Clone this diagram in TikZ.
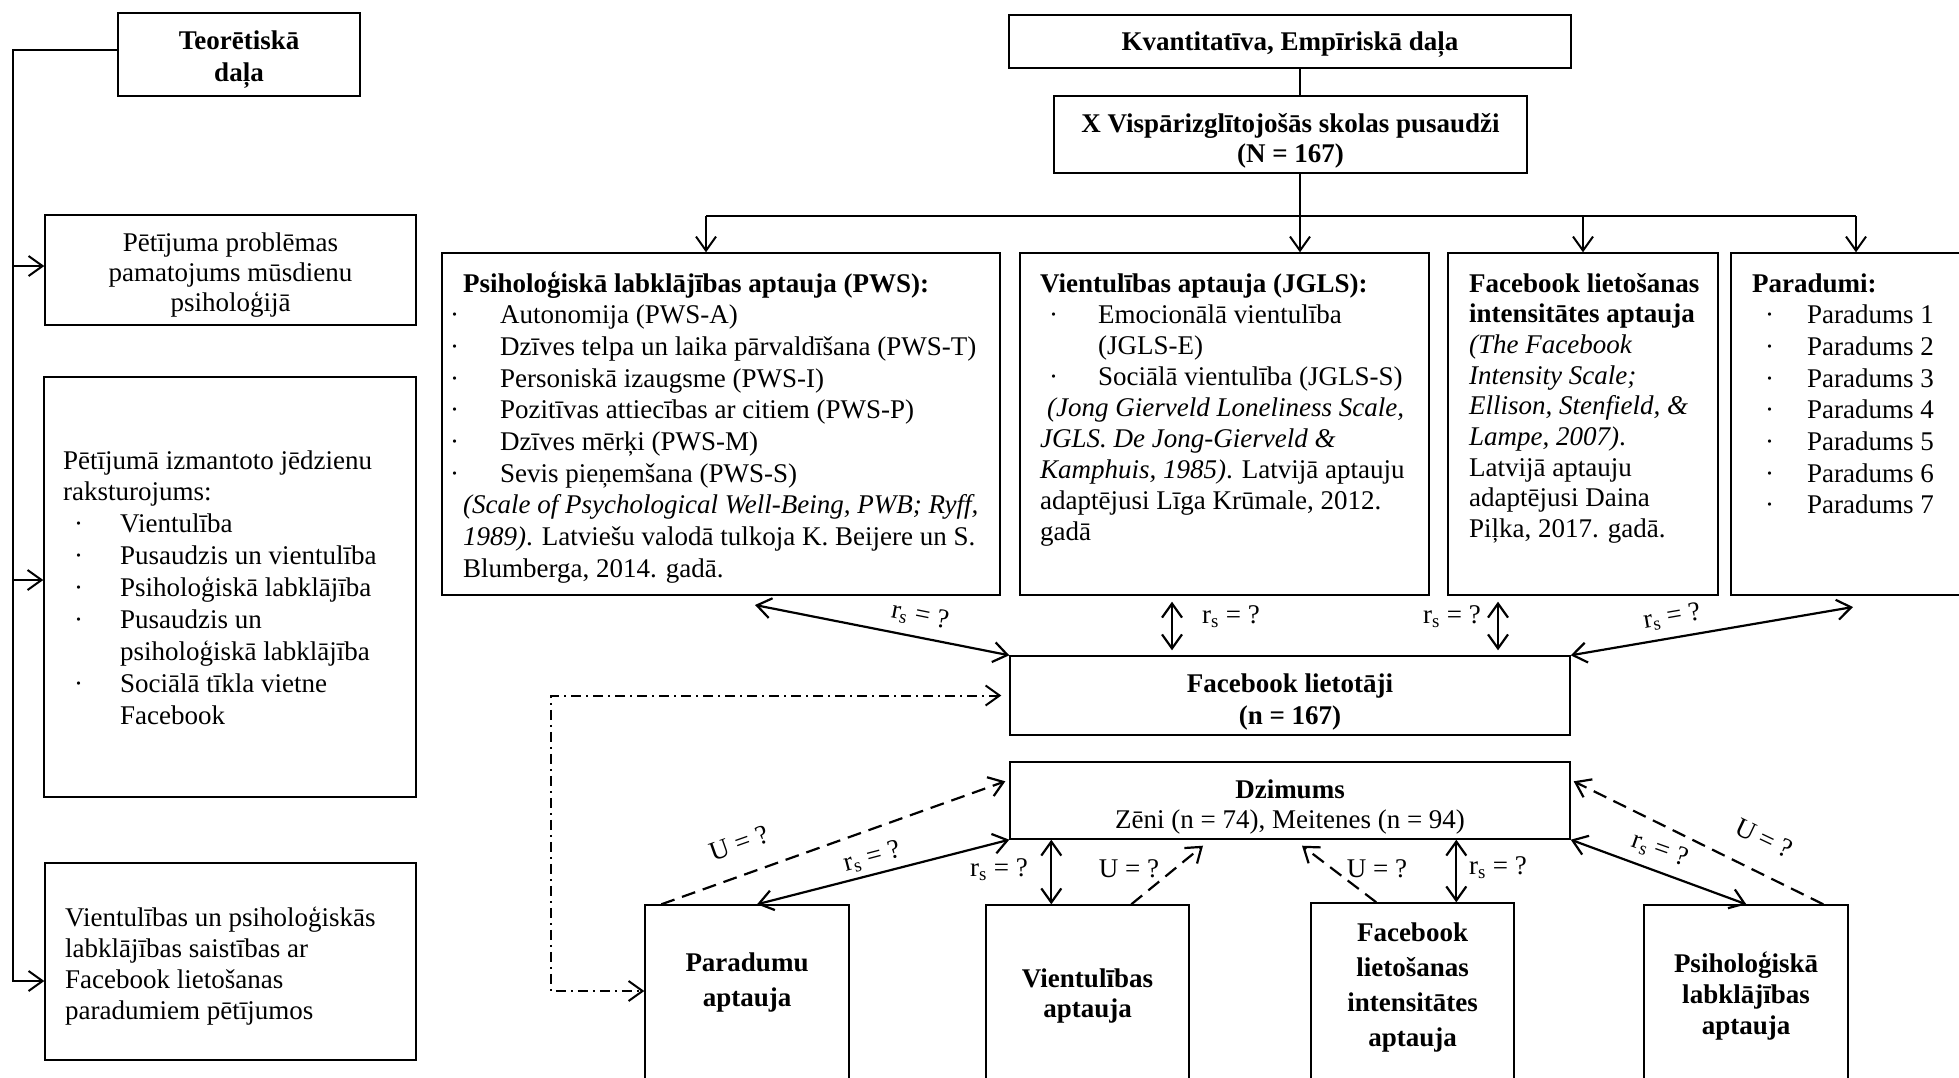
\documentclass[tikz,border=0pt]{standalone}
\usepackage{fontspec}
\setmainfont{Liberation Serif}
\usetikzlibrary{arrows.meta}
\newcommand\bulx[1]{\makebox[#1][l]{·}}
\newcommand\txtlines[3]{{\fontsize{27}{#1}\selectfont\begin{tabular}[t]{@{}#2@{}}#3\end{tabular}}}
\begin{document}
\begin{tikzpicture}[x=1pt,y=-1pt,
  font=\fontsize{27}{31.7}\selectfont,
  >={Straight Barb[length=14pt,width=20pt]},
  box/.style={draw, line width=1.4pt, inner sep=0pt, rectangle},
  txt/.style={inner sep=0pt, anchor=base west},
  ctxt/.style={inner sep=0pt, anchor=base},
  conn/.style={line width=2.2pt},
  thinconn/.style={line width=2pt},
  dashedconn/.style={line width=2.2pt, dash pattern=on 14pt off 8pt},
  ddot/.style={line width=2pt, dash pattern=on 10pt off 5pt on 2pt off 5pt},
  lab/.style={inner sep=1pt}]
\useasboundingbox (0,0) rectangle (1959,1077);
\fill[white] (0,0) rectangle (1959,1077);
\clip (0,0) rectangle (1959,1077);

% ---------- boxes ----------
\node[box, minimum width=242pt, minimum height=83pt] (teo) at (239,54.5) {};
\node[box, minimum width=371pt, minimum height=110pt] (lb1) at (230.5,270) {};
\node[box, minimum width=372pt, minimum height=420pt] (lb2) at (230,587) {};
\node[box, minimum width=371pt, minimum height=197pt] (lb3) at (230.5,961.5) {};

\node[box, minimum width=562pt, minimum height=53pt] (kv) at (1290,41.5) {};
\node[box, minimum width=473pt, minimum height=77pt] (xv) at (1290.5,134.5) {};

\node[box, minimum width=558pt, minimum height=342pt] (pws) at (721,424) {};
\node[box, minimum width=409pt, minimum height=342pt] (jg) at (1224.5,424) {};
\node[box, minimum width=270pt, minimum height=342pt] (fb) at (1583,424) {};
\node[box, minimum width=269pt, minimum height=342pt] (pad) at (1865.5,424) {};

\node[box, minimum width=560pt, minimum height=79pt] (fbl) at (1290,695.5) {};
\node[box, minimum width=560pt, minimum height=77pt] (dz) at (1290,800.5) {};

\node[box, minimum width=204pt, minimum height=295pt] (bpa) at (747,1052.5) {};
\node[box, minimum width=203pt, minimum height=295pt] (bva) at (1087.5,1052.5) {};
\node[box, minimum width=203pt, minimum height=297pt] (bfa) at (1412.5,1051.5) {};
\node[box, minimum width=204pt, minimum height=295pt] (bps) at (1746,1052.5) {};

% ---------- texts ----------
\node[ctxt] (teo-t) at (239,49) {\txtlines{32}{c}{\textbf{Teorētiskā}\\\textbf{daļa}}};
\node[ctxt] (lb1-t) at (230.5,251) {\txtlines{30}{c}{Pētījuma problēmas\\pamatojums mūsdienu\\psiholoģijā}};
\node[txt] (lb2-t) at (63,469) {\txtlines{31.9}{l}{%
Pētījumā izmantoto jēdzienu\\
raksturojums:\\
\hspace*{11pt}\bulx{46pt}Vientulība\\
\hspace*{11pt}\bulx{46pt}Pusaudzis un vientulība\\
\hspace*{11pt}\bulx{46pt}Psiholoģiskā labklājība\\
\hspace*{11pt}\bulx{46pt}Pusaudzis un\\
\hspace*{57pt}psiholoģiskā labklājība\\
\hspace*{11pt}\bulx{46pt}Sociālā tīkla vietne\\
\hspace*{57pt}Facebook}};
\node[txt] (lb3-t) at (65,926) {\txtlines{31}{l}{%
Vientulības un psiholoģiskās\\
labklājības saistības ar\\
Facebook lietošanas\\
paradumiem pētījumos}};

\node[ctxt] (kv-t) at (1290,50) {\textbf{Kvantitatīva, Empīriskā daļa}};
\node[ctxt] (xv-t) at (1290.5,132) {\txtlines{30}{c}{\textbf{X Vispārizglītojošās skolas pusaudži}\\\textbf{(N = 167)}}};

\node[txt] (pws-t) at (450,292) {\txtlines{31.7}{l}{%
\hspace*{13pt}\textbf{Psiholoģiskā labklājības aptauja (PWS):}\\
\bulx{50pt}Autonomija (PWS-A)\\
\bulx{50pt}Dzīves telpa un laika pārvaldīšana (PWS-T)\\
\bulx{50pt}Personiskā izaugsme (PWS-I)\\
\bulx{50pt}Pozitīvas attiecības ar citiem (PWS-P)\\
\bulx{50pt}Dzīves mērķi (PWS-M)\\
\bulx{50pt}Sevis pieņemšana (PWS-S)\\
\hspace*{13pt}\textit{(Scale of Psychological Well-Being, PWB; Ryff,}\\
\hspace*{13pt}\textit{1989)}. Latviešu valodā tulkoja K. Beijere un S.\\
\hspace*{13pt}Blumberga, 2014. gadā.}};

\node[txt] (jg-t) at (1040,292) {\txtlines{31}{l}{%
\textbf{Vientulības aptauja (JGLS):}\\
\hspace*{9pt}\bulx{49pt}Emocionālā vientulība\\
\hspace*{58pt}(JGLS-E)\\
\hspace*{9pt}\bulx{49pt}Sociālā vientulība (JGLS-S)\\
\hspace*{7pt}\textit{(Jong Gierveld Loneliness Scale,}\\
\textit{JGLS. De Jong-Gierveld \&}\\
\textit{Kamphuis, 1985)}. Latvijā aptauju\\
adaptējusi Līga Krūmale, 2012.\\
gadā}};

\node[txt] (fb-t) at (1469,292) {\txtlines{30.7}{l}{%
\textbf{Facebook lietošanas}\\
\textbf{intensitātes aptauja}\\
\textit{(The Facebook}\\
\textit{Intensity Scale;}\\
\textit{Ellison, Stenfield, \&}\\
\textit{Lampe, 2007)}.\\
Latvijā aptauju\\
adaptējusi Daina\\
Piļka, 2017. gadā.}};

\node[txt] (pad-t) at (1752,292) {\txtlines{31.7}{l}{%
\textbf{Paradumi:}\\
\hspace*{13pt}\bulx{42pt}Paradums 1\\
\hspace*{13pt}\bulx{42pt}Paradums 2\\
\hspace*{13pt}\bulx{42pt}Paradums 3\\
\hspace*{13pt}\bulx{42pt}Paradums 4\\
\hspace*{13pt}\bulx{42pt}Paradums 5\\
\hspace*{13pt}\bulx{42pt}Paradums 6\\
\hspace*{13pt}\bulx{42pt}Paradums 7}};

\node[ctxt] (fbl-t) at (1290,692) {\txtlines{32}{c}{\textbf{Facebook lietotāji}\\\textbf{(n = 167)}}};
\node[ctxt] (dz-t) at (1290,798) {\txtlines{30}{c}{\textbf{Dzimums}\\Zēni (n = 74), Meitenes (n = 94)}};

\node[ctxt] (bpa-t) at (747,971) {\txtlines{35}{c}{\textbf{Paradumu}\\\textbf{aptauja}}};
\node[ctxt] (bva-t) at (1087.5,987) {\txtlines{30}{c}{\textbf{Vientulības}\\\textbf{aptauja}}};
\node[ctxt] (bfa-t) at (1412.5,941) {\txtlines{35}{c}{\textbf{Facebook}\\\textbf{lietošanas}\\\textbf{intensitātes}\\\textbf{aptauja}}};
\node[ctxt] (bps-t) at (1746,972) {\txtlines{31}{c}{\textbf{Psiholoģiskā}\\\textbf{labklājības}\\\textbf{aptauja}}};

% ---------- left spine ----------
\coordinate (sp0) at (13,50);
\coordinate (sp1) at (13,266);
\coordinate (sp2) at (13,580);
\coordinate (sp3) at (13,981);
\draw[thinconn,->] (teo.west |- sp0) -- (sp0) -- (sp3) -- (lb3.west |- sp3);
\draw[thinconn,->] (sp1) -- (lb1.west |- sp1);
\draw[thinconn,->] (sp2) -- (lb2.west |- sp2);

% ---------- top tree ----------
\coordinate (tr) at (1300,216);
\coordinate (hl) at (706,216);
\coordinate (hr) at (1856,216);
\draw[thinconn] (kv.south -| tr) -- (xv.north -| tr);
\draw[thinconn] (xv.south -| tr) -- (tr);
\draw[thinconn] (hl) -- (hr);
\draw[thinconn,->] (hl) -- (pws.north -| hl);
\draw[thinconn,->] (tr) -- (jg.north -| tr);
\draw[thinconn,->] (fb.north |- tr) -- (fb.north);
\draw[thinconn,->] (hr) -- (pad.north -| hr);

% ---------- middle ----------
\coordinate (m1) at (755,605);
\draw[conn,<->] (m1) -- (fbl.north west);
\coordinate (m2) at (1172,0);
\draw[conn,<->,shorten <=6pt,shorten >=5pt] (jg.south -| m2) -- (fbl.north -| m2);
\coordinate (m3) at (1498,0);
\draw[conn,<->,shorten <=6pt,shorten >=5pt] (fb.south -| m3) -- (fbl.north -| m3);
\coordinate (m4) at (1853,607);
\draw[conn,<->] (fbl.north east) -- (m4);

\coordinate (dd) at (551,991);
\draw[ddot,<->,shorten <=8pt] (fbl.west) -- (fbl.west -| dd) -- (dd) -- (bpa.west |- dd);

% ---------- bottom ----------
\draw[conn,<->] (dz.south west) -- ([xshift=10pt]bpa.north);
\draw[dashedconn,->] ([xshift=17pt]bpa.north west) -- ([xshift=-4pt,yshift=-20pt]dz.north west);
\coordinate (cva) at ([xshift=66pt]bva.north west);
\draw[conn,<->] (cva |- dz.south) -- (cva);
\draw[dashedconn,->] ([xshift=146pt]bva.north west) -- ([xshift=-87pt,yshift=-6pt]dz.south);
\draw[dashedconn,->] ([xshift=66pt]bfa.north west) -- ([xshift=12pt,yshift=-6pt]dz.south);
\coordinate (cfa) at ([xshift=146pt]bfa.north west);
\draw[conn,<->] (cfa |- dz.south) -- (cfa);
\draw[conn,<->] (dz.south east) -- ([xshift=103pt]bps.north west);
\draw[dashedconn,->] ([xshift=180pt]bps.north west) -- ([xshift=3pt,yshift=-20pt]dz.north east);

% ---------- labels ----------
\node[lab, rotate=-11.4] (l1) at (920,616) {r\textsubscript{s} = ?};
\node[lab] (l2) at (1231,617) {r\textsubscript{s} = ?};
\node[lab] (l3) at (1452,617) {r\textsubscript{s} = ?};
\node[lab, rotate=9.8] (l4) at (1672,617) {r\textsubscript{s} = ?};
\node[lab, rotate=19.4] (l5) at (739,843) {U = ?};
\node[lab, rotate=14.8] (l6) at (872,857) {r\textsubscript{s} = ?};
\node[lab] (l7) at (999,870) {r\textsubscript{s} = ?};
\node[lab] (l8) at (1129,869) {U = ?};
\node[lab] (l9) at (1377,869) {U = ?};
\node[lab] (l10) at (1498,868) {r\textsubscript{s} = ?};
\node[lab, rotate=-19.5] (l11) at (1660,850) {r\textsubscript{s} = ?};
\node[lab, rotate=-25.4] (l12) at (1764,838) {U = ?};
\end{tikzpicture}
\end{document}
